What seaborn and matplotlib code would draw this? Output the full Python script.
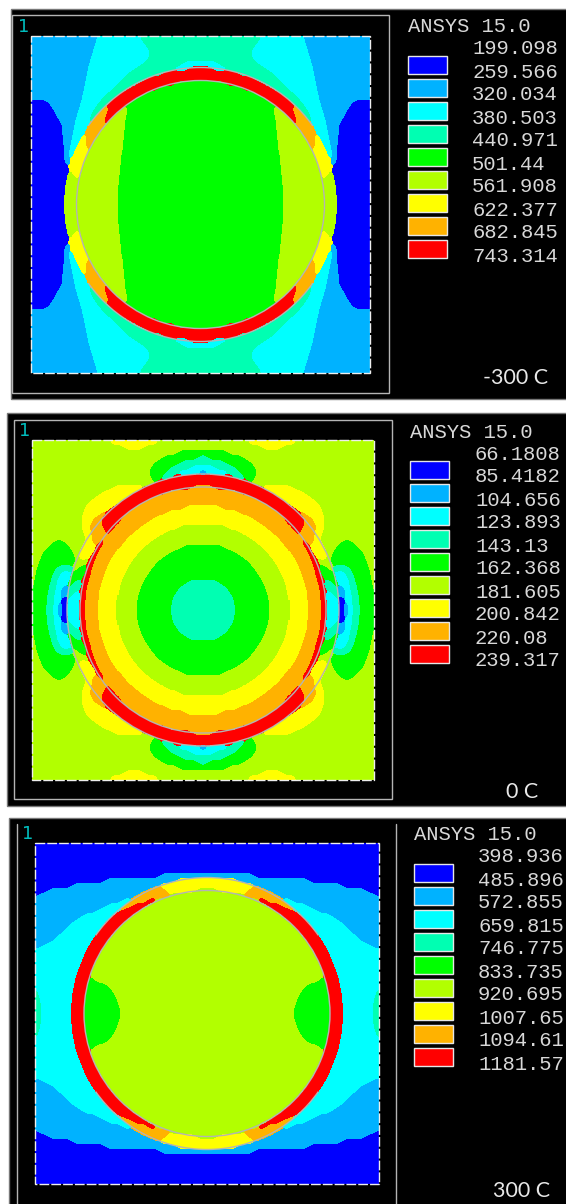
import numpy as np
import matplotlib
matplotlib.use("Agg")
import matplotlib.pyplot as plt
import seaborn as sns
from matplotlib.colors import ListedColormap
from matplotlib.patches import Rectangle, Arc

# contour band colours, lowest to highest
band_colors = ["#0000FF", "#00B2FF", "#00FFFF", "#00FFB2", "#00FF00",
               "#B2FF00", "#FFFF00", "#FFB200", "#FF0000"]

# upper left quarter of each field, one string per 5 px row: "band:end_column"
rows_cold = [
    "1:66 2:109 3:170", "1:64 2:113 3:170", "1:63 2:117 3:170", "1:61 2:119 3:170",
    "1:60 2:117 3:170", "1:58 2:112 3:152 2:170", "1:57 2:104 3:143 2:158 8:170",
    "1:56 2:97 3:132 8:170", "1:55 2:92 3:117 8:170", "1:54 2:87 3:107 8:145 4:170",
    "1:53 2:82 3:98 8:128 4:170", "1:52 2:77 3:90 8:116 4:170", "1:51 2:72 3:84 8:107 4:170",
    "0:17 1:50 2:68 3:78 8:99 4:170", "0:21 1:48 2:64 3:73 7:78 8:92 5:96 4:170",
    "0:24 1:47 2:61 3:68 7:76 8:86 5:96 4:170", "0:26 1:45 2:59 3:64 7:74 8:81 5:95 4:170",
    "0:30 1:44 2:57 3:60 7:73 8:77 5:94 4:170", "0:31 1:43 2:56 7:72 5:94 4:170",
    "0:31 1:42 2:53 6:55 7:69 5:93 4:170", "0:32 1:41 2:50 6:55 7:65 5:93 4:170",
    "0:32 1:40 2:48 6:55 7:62 5:92 4:170", "0:33 1:39 2:45 6:55 7:60 5:92 4:170",
    "0:33 1:38 2:43 6:57 5:91 4:170", "0:33 1:37 2:41 6:55 5:90 4:170",
    "0:34 1:39 6:53 5:90 4:170", "0:36 1:38 6:51 5:89 4:170", "0:37 5:41 6:50 5:89 4:170",
    "0:36 5:44 6:49 5:88 4:170", "0:35 5:88 4:170", "0:34 5:87 4:170",
    "0:34 5:87 4:170", "0:33 5:87 4:170", "0:33 5:87 4:170",
]
rows_zero = [
    "5:78 6:125 5:170", "5:91 6:111 5:170", "5:145 4:170", "5:130 4:165 3:170",
    "5:122 4:148 3:170", "5:118 4:138 3:158 2:170", "5:116 4:133 3:145 2:165 1:170",
    "5:118 4:128 3:137 2:139 8:170", "5:121 4:123 8:170", "5:81 6:111 8:159 7:170",
    "5:70 6:101 8:134 7:170", "5:63 6:94 8:120 7:170", "5:56 6:87 8:110 7:170",
    "5:53 6:78 7:81 8:102 7:152 6:170", "5:51 6:70 7:75 8:95 7:134 6:170",
    "5:50 6:63 7:70 8:90 7:122 6:170", "5:50 6:59 7:69 8:86 7:114 6:170",
    "5:50 6:58 7:71 8:83 7:107 6:146 5:170", "5:51 6:59 7:74 8:78 7:101 6:133 5:170",
    "5:54 6:60 7:71 8:75 7:95 6:124 5:170", "5:21 4:33 5:52 6:60 7:67 8:72 7:91 6:117 5:170",
    "5:16 4:38 5:49 6:64 8:69 7:87 6:111 5:149 4:170",
    "5:11 4:41 5:47 6:61 8:66 7:83 6:106 5:138 4:170",
    "5:9 4:43 5:46 6:56 5:59 8:64 7:80 6:102 5:130 4:170",
    "5:7 4:43 5:56 8:62 7:77 6:98 5:124 4:170",
    "5:5 4:25 3:41 5:47 4:55 8:60 7:75 6:95 5:120 4:170",
    "5:4 4:21 3:30 2:37 3:39 5:42 4:53 8:59 7:73 6:93 5:116 4:170",
    "5:3 4:20 3:26 2:38 4:51 8:58 7:71 6:90 5:113 4:170",
    "5:2 4:18 3:25 2:37 4:41 3:50 8:56 7:70 6:88 5:110 4:154 3:170",
    "5:1 4:17 3:24 2:30 1:36 4:39 3:49 8:55 7:68 6:87 5:108 4:147 3:170",
    "5:1 4:16 3:23 2:29 1:35 4:37 3:43 2:48 8:54 7:67 6:86 5:106 4:143 3:170",
    "4:15 3:22 2:28 1:31 0:35 3:38 2:48 8:54 7:67 6:85 5:105 4:140 3:170",
    "4:15 3:22 2:27 1:30 0:34 3:37 2:47 8:53 7:66 6:84 5:104 4:139 3:170",
    "4:14 3:21 2:26 1:30 0:34 3:36 2:47 8:53 7:66 6:84 5:104 4:138 3:170",
]
rows_hot = [
    "0:172", "0:172", "0:172", "0:172", "0:172", "0:172", "0:125 1:172",
    "0:70 1:141 6:172", "0:37 1:120 2:125 6:172", "0:13 1:108 2:113 7:131 6:161 5:172",
    "0:2 1:98 2:103 7:136 5:172", "1:87 2:96 7:112 8:122 5:172", "1:72 2:89 7:98 8:112 5:172",
    "1:62 2:83 7:88 8:104 5:172", "1:48 2:77 7:80 8:97 5:172", "1:40 2:72 8:91 5:172",
    "1:33 2:68 8:86 5:172", "1:30 2:64 8:81 5:172", "1:23 2:60 8:76 5:172",
    "1:18 2:57 8:73 5:172", "1:8 2:54 8:69 5:172", "2:51 8:66 5:172", "2:49 8:63 5:172",
    "2:47 8:61 5:172", "2:45 8:58 5:172", "2:43 8:57 5:172", "2:41 8:55 5:172",
    "2:40 8:53 4:60 5:172", "2:39 8:52 4:72 5:172", "3:2 2:38 8:51 4:77 5:172",
    "3:4 2:37 8:50 4:80 5:172", "3:5 2:37 8:50 4:82 5:172", "3:6 2:36 8:49 4:84 5:172",
    "3:6 2:36 8:49 4:85 5:172",
]

labels_cold = ["199.098", "259.566", "320.034", "380.503", "440.971",
               "501.44", "561.908", "622.377", "682.845", "743.314"]
labels_zero = ["66.1808", "85.4182", "104.656", "123.893", "143.13",
               "162.368", "181.605", "200.842", "220.08", "239.317"]
labels_hot = ["398.936", "485.896", "572.855", "659.815", "746.775",
              "833.735", "920.695", "1007.65", "1094.61", "1181.57"]

W, H = 566, 1204
GRAY = "#b4b4b4"
mono = "Liberation Mono"


def box(mask, k):
    p = k // 2
    m = np.pad(mask, p, mode="edge")
    c = np.pad(m, ((1, 0), (1, 0))).cumsum(0).cumsum(1)
    return c[k:, k:] - c[:-k, k:] - c[k:, :-k] + c[:-k, :-k]


def majority(grid, k):
    # rounds off the stairs that the 5 px rows leave on the band edges
    return np.argmax([box((grid == b).astype(float), k) for b in range(len(band_colors))], axis=0)


def expand(rows):
    # runs -> quarter grid -> full field by mirroring
    width = int(rows[0].split()[-1].split(":")[1])
    quarter = np.zeros((len(rows), width))
    for i, row in enumerate(rows):
        start = 0
        for run in row.split():
            band, end = run.split(":")
            quarter[i, start:int(end)] = int(band)
            start = int(end)
    half = np.hstack([quarter, quarter[:, ::-1]])
    full = np.repeat(np.vstack([half, half[::-1]]), 5, axis=0)
    return majority(majority(full, 7), 7)


sns.set_style("white")
fig = plt.figure(figsize=(W / 100, H / 100), dpi=100, facecolor="white")
back = fig.add_axes([0, 0, 1, 1], zorder=0)
front = fig.add_axes([0, 0, 1, 1], zorder=2)
for a in (back, front):
    a.set_xlim(0, W)
    a.set_ylim(H, 0)
    a.axis("off")
    a.patch.set_alpha(0)


def panel(rows, labels, title, field, sheet, key_xy, text_xy, value_x, caption_xy, r_outer, r_inner, full_outer):
    x0, y0, x1, y1 = field
    back.add_patch(Rectangle((sheet[0], sheet[1]), W - sheet[0] + 2, sheet[2] - sheet[1],
                             fc="black", ec="#777777", lw=1))
    ax = fig.add_axes([x0 / W, 1 - y1 / H, (x1 - x0) / W, (y1 - y0) / H], zorder=1)
    sns.heatmap(expand(rows), ax=ax, cmap=ListedColormap(band_colors), vmin=-0.5, vmax=8.5,
                cbar=False, xticklabels=False, yticklabels=False, linewidths=0, rasterized=True)
    # dashed element outline round the field
    front.add_patch(Rectangle((x0, y0), x1 - x0, y1 - y0, fc="none", ec="#eeeeee", lw=1,
                              ls=(0, (7, 1.5))))
    cx, cy = (x0 + x1) / 2, (y0 + y1) / 2
    front.add_patch(Arc((cx, cy), 2 * r_inner, 2 * r_inner, color=GRAY, lw=1))
    if full_outer:
        front.add_patch(Arc((cx, cy), 2 * r_outer, 2 * r_outer, color=GRAY, lw=1))
    else:
        for start in (35, 215):
            front.add_patch(Arc((cx, cy), 2 * r_outer, 2 * r_outer, theta1=start, theta2=start + 110,
                                color=GRAY, lw=1))
    # legend
    kx, ky = key_xy
    for i, c in enumerate(band_colors):
        front.add_patch(Rectangle((kx, ky + 23 * i), 39, 18, fc=c, ec="#e6e6e6", lw=1))
    front.text(text_xy[0], text_xy[1], "ANSYS 15.0", family=mono, fontsize=14.8, color="#d8d8d8",
               va="center", ha="left")
    for i, lab in enumerate(labels):
        front.text(value_x, ky - 7 + 23 * i, lab, family=mono, fontsize=14.8, color="#d8d8d8",
                   va="center", ha="left")
    front.text(caption_xy[0], caption_xy[1], title, family="Lato", fontsize=15.5, color="#e8e8e8",
               va="center", ha="center")
    front.text(x0 - 7, y0 - 9, "1", family="DejaVu Sans", fontsize=13, color="#00BDBD",
               va="center", ha="center")


panel(rows_cold, labels_cold, "-300 C", (31, 36, 370, 373), (11, 9, 399), (408, 56), (408, 27), 472,
      (516, 378), 137, 124, False)
panel(rows_zero, labels_zero, "0 C", (32, 440, 374, 780), (7, 413, 806), (410, 461), (410, 432), 475,
      (522, 792), 136, 123, True)
panel(rows_hot, labels_hot, "300 C", (35, 843, 379, 1184), (9, 818, 1206), (414, 864), (414, 835), 478,
      (522, 1191), 136, 123, False)

# inner window frames
front.add_patch(Rectangle((12, 15), 377, 378, fc="none", ec=GRAY, lw=1))
front.add_patch(Rectangle((13.5, 420), 378.5, 379, fc="none", ec=GRAY, lw=1))
front.plot([16.5, 16.5], [824, 1204], color=GRAY, lw=1)
front.plot([396, 396], [824, 1204], color=GRAY, lw=1)

fig.savefig("out.png", dpi=100, facecolor="white")
